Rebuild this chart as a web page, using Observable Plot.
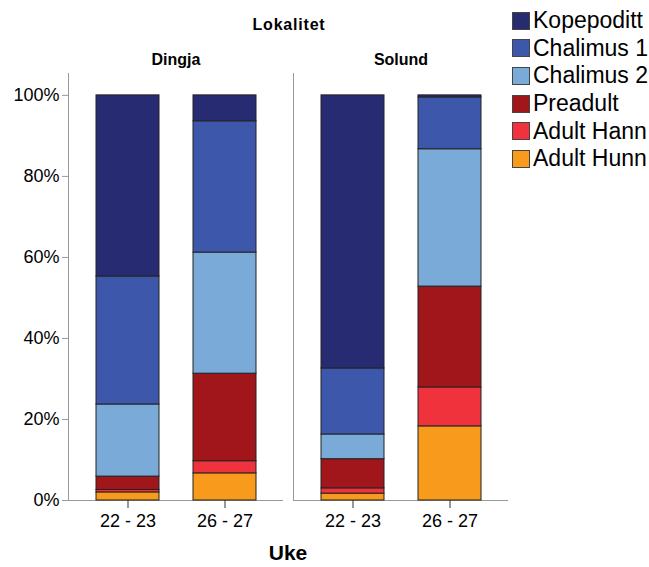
<!DOCTYPE html>
<html>
<head>
<meta charset="utf-8">
<script src="https://cdn.jsdelivr.net/npm/d3@7"></script>
<script src="https://cdn.jsdelivr.net/npm/@observablehq/plot@0.6"></script>
<style>
  html, body { margin: 0; padding: 0; background: #fff; }
  #wrap { position: relative; width: 649px; height: 567px; font-family: "Liberation Sans", Arial, sans-serif; overflow: hidden; }
  #legend { position: absolute; left: 512px; top: 7px; }
  .item { display: flex; align-items: center; height: 27.6px; font-size: 23px; color: #000; white-space: nowrap; }
  .sw { width: 18px; height: 18px; border: 1px solid #444; margin-right: 3px; box-sizing: border-box; flex: none; }
</style>
</head>
<body>
<div id="wrap"><div id="legend"></div></div>
<script>
const stages = ["Kopepoditt", "Chalimus 1", "Chalimus 2", "Preadult", "Adult Hann", "Adult Hunn"];
const colors = ["#272b72", "#3d58ab", "#7aaad7", "#a0161b", "#f0323c", "#f89b1d"];
const sites = ["Dingja", "Solund"];
const weeks = ["22 - 23", "26 - 27"];
// percent per stage, order as in `stages`
const dingja_22_23 = [44.7, 31.6, 17.8, 3.3, 0.6, 2.0];
const dingja_26_27 = [6.4, 32.4, 29.9, 21.6, 3.0, 6.7];
const solund_22_23 = [67.4, 16.3, 6.1, 7.2, 1.3, 1.7];
const solund_26_27 = [0.5, 12.8, 33.9, 24.9, 9.6, 18.3];
const yTicks = [0, 20, 40, 60, 80, 100];

const series = [
  ["Dingja", "22 - 23", dingja_22_23],
  ["Dingja", "26 - 27", dingja_26_27],
  ["Solund", "22 - 23", solund_22_23],
  ["Solund", "26 - 27", solund_26_27]
];
const table = [];
for (const [site, week, vals] of series) {
  for (let i = stages.length - 1; i >= 0; i--) {
    table.push({site, week, stage: stages[i], value: vals[i]});
  }
}

const chart = Plot.plot({
  width: 649,
  height: 567,
  marginLeft: 68,
  marginRight: 140,
  marginTop: 73,
  marginBottom: 67,
  style: {fontFamily: "'Liberation Sans', Arial, sans-serif", background: "white", color: "#000"},
  fx: {domain: sites, paddingInner: 0.044, paddingOuter: 0, axis: null},
  x: {domain: weeks, paddingInner: 0.354, paddingOuter: 0.285, axis: null},
  y: {domain: [0, 105.4], axis: null},
  color: {domain: stages, range: colors},
  marks: [
    Plot.frame({anchor: "left", stroke: "#999"}),
    Plot.ruleY([0], {stroke: "#999"}),
    Plot.barY(table, {fx: "site", x: "week", y: "value", fill: "stage", stroke: "#222", strokeWidth: 1}),
    Plot.axisY({ticks: yTicks, tickFormat: d => d + "%", tickSize: 6, tickPadding: 3, fontSize: 18, stroke: "#999", fill: "#000", label: null}),
    Plot.axisX({tickSize: 8, tickPadding: 6, fontSize: 18, stroke: "#333", fill: "#000", label: null}),
    Plot.text(sites, {fx: d => d, text: d => d, frameAnchor: "top", dy: -9, lineAnchor: "bottom", fontWeight: "bold", fontSize: 16, fill: "#000"})
  ]
});

const svg = d3.select(chart);
svg.append("text").attr("x", 289).attr("y", 30).attr("text-anchor", "middle")
  .attr("font-size", 16).attr("font-weight", "bold").attr("letter-spacing", "0.8px").attr("fill", "#000").text("Lokalitet");
svg.append("text").attr("x", 288).attr("y", 560).attr("text-anchor", "middle")
  .attr("font-size", 21).attr("font-weight", "bold").attr("fill", "#000").text("Uke");

document.getElementById("wrap").prepend(chart);

const legend = d3.select("#legend");
stages.forEach((s, i) => {
  const it = legend.append("div").attr("class", "item");
  it.append("div").attr("class", "sw").style("background", colors[i]);
  it.append("span").text(s);
});
</script>
</body>
</html>
